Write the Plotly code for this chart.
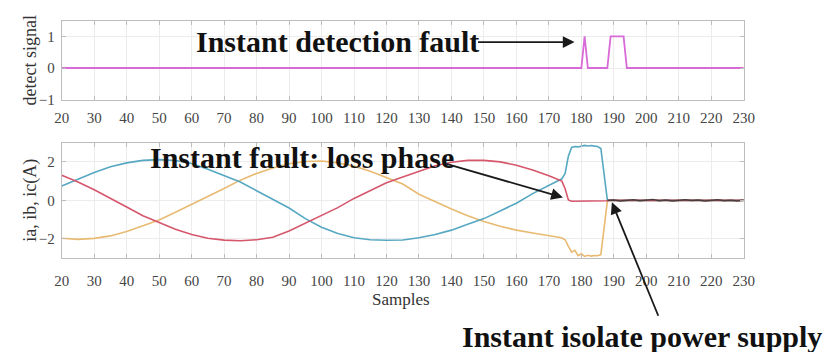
import plotly.graph_objects as go

# ---------------- data ----------------
samples = [20, 25, 30, 35, 40, 45, 50, 55, 60, 65, 70, 75, 80, 85, 90, 95, 100,
           105, 110, 115, 120, 125, 130, 135, 140, 145, 150, 155, 160, 165, 170,
           173, 174, 175, 176, 177, 178, 179, 180, 181, 182, 183, 184, 185, 186,
           187, 188, 189, 190, 200, 210, 220, 230]

i_blue = [0.75, 1.10, 1.45, 1.75, 1.95, 2.08, 2.12, 2.07, 1.92, 1.62, 1.30, 0.95,
          0.50, 0.05, -0.40, -0.95, -1.40, -1.72, -1.95, -2.05, -2.08, -2.06,
          -1.95, -1.78, -1.55, -1.25, -0.95, -0.55, -0.15, 0.35, 0.80,
          1.05, 1.12, 1.40, 2.30, 2.75, 2.80, 2.78, 2.84, 2.86, 2.83, 2.85, 2.82,
          2.80, 2.70, 1.30, 0.02, 0.0, 0.0, 0.0, 0.0, 0.0, 0.0]

i_red = [1.30, 0.95, 0.55, 0.12, -0.35, -0.80, -1.15, -1.50, -1.78, -1.97, -2.07,
         -2.10, -2.05, -1.92, -1.60, -1.20, -0.80, -0.38, 0.10, 0.50, 0.92, 1.22,
         1.52, 1.80, 1.98, 2.08, 2.08, 2.00, 1.83, 1.58, 1.28,
         1.10, 1.00, 0.60, 0.02, -0.05, -0.05, -0.05, -0.04, -0.05, -0.05, -0.04,
         -0.05, -0.05, -0.04, -0.03, -0.02, 0.0, 0.0, 0.0, 0.0, 0.0, 0.0]

i_yellow = [-1.97, -2.03, -1.98, -1.85, -1.62, -1.32, -1.02, -0.62, -0.22, 0.22,
            0.62, 1.05, 1.40, 1.68, 1.90, 2.02, 2.05, 1.95, 1.78, 1.52, 1.20,
            0.85, 0.32, -0.08, -0.45, -0.80, -1.10, -1.35, -1.55, -1.70, -1.82,
            -1.92, -1.96, -2.05, -2.40, -2.70, -2.60, -2.88, -2.78, -2.92, -2.86,
            -2.90, -2.87, -2.88, -2.82, -1.40, -0.05, 0.0, 0.0, 0.0, 0.0, 0.0, 0.0]

resid_samples = [188, 190, 192, 194, 196, 198, 200, 202, 204, 206, 208, 210, 212,
                 214, 216, 218, 220, 222, 224, 226, 228, 230]
resid_vals = [0.0, 0.02, -0.03, 0.01, 0.03, -0.02, 0.0, 0.04, -0.02, 0.02, -0.04,
              0.01, 0.03, -0.01, 0.02, -0.03, 0.0, 0.03, -0.02, 0.01, -0.03, 0.02]

det_samples = [20, 180, 181, 182, 188, 189, 193, 194, 230]
det_vals = [0, 0, 1, 0, 0, 1, 1, 0, 0]

x_ticks = list(range(20, 231, 10))
top_yticks = [-1, 0, 1]
bot_yticks = [-2, 0, 2]

# ---------------- figure ----------------
W, H = 829, 352
BLUE, RED, YEL, MAG = "#56a8c2", "#d6566c", "#e8ba72", "#d86ad8"
SERIF = "Liberation Serif, Times New Roman, serif"

fig = go.Figure()
fig.add_trace(go.Scatter(x=det_samples, y=det_vals, mode="lines",
                         line=dict(color=MAG, width=1.8), xaxis="x", yaxis="y"))
fig.add_trace(go.Scatter(x=samples, y=i_yellow, mode="lines",
                         line=dict(color=YEL, width=1.6), xaxis="x2", yaxis="y2"))
fig.add_trace(go.Scatter(x=samples, y=i_blue, mode="lines",
                         line=dict(color=BLUE, width=1.6), xaxis="x2", yaxis="y2"))
fig.add_trace(go.Scatter(x=samples, y=i_red, mode="lines",
                         line=dict(color=RED, width=1.6), xaxis="x2", yaxis="y2"))
fig.add_trace(go.Scatter(x=resid_samples, y=resid_vals, mode="lines",
                         line=dict(color="#4a3c3c", width=1.5), xaxis="x2", yaxis="y2"))

tickfont = dict(family=SERIF, size=15, color="#454545")
common = dict(showline=True, linecolor="#bdbdbd", linewidth=1, mirror="ticks",
              ticks="inside", ticklen=4, tickcolor="#bdbdbd", showgrid=True,
              gridcolor="#ececec", zeroline=False, tickfont=tickfont)

xdom = [55 / W, 753 / W]
fig.update_layout(
    width=W, height=H, margin=dict(l=0, r=0, t=0, b=0),
    paper_bgcolor="white", plot_bgcolor="white", showlegend=False,
    xaxis=dict(domain=xdom, range=[20, 230], tickvals=x_ticks, anchor="y",
               ticklabelstandoff=4, **common),
    yaxis=dict(domain=[1 - 102 / H, 1 - 21 / H], range=[-1, 1.5], tickvals=top_yticks,
               anchor="x", ticklabelstandoff=3, **common),
    xaxis2=dict(domain=xdom, range=[20, 230], tickvals=x_ticks, anchor="y2",
                ticklabelstandoff=9, **common),
    yaxis2=dict(domain=[1 - 264 / H, 1 - 146 / H], range=[-3, 3], tickvals=bot_yticks,
                anchor="x2", ticklabelstandoff=3, **common),
)

labfont = dict(family=SERIF, size=18, color="#333333")
bigfont = dict(family=SERIF, size=30, color="#111111")
ann = [
    dict(text="detect signal", x=23 / W, y=1 - 61.5 / H, xref="paper", yref="paper",
         textangle=-90, showarrow=False, font=labfont, xanchor="center", yanchor="middle"),
    dict(text="ia, ib, ic(A)", x=23 / W, y=1 - 205 / H, xref="paper", yref="paper",
         textangle=-90, showarrow=False, font=labfont, xanchor="center", yanchor="middle"),
    dict(text="Samples", x=402 / W, y=1 - 306 / H, xref="paper", yref="paper",
         showarrow=False, font=dict(family=SERIF, size=17, color="#333333"),
         xanchor="center", yanchor="middle"),
    dict(text="<b>Instant detection fault</b>", x=337 / W, y=1 - 42 / H, xref="paper",
         yref="paper", showarrow=False, font=bigfont, xanchor="center", yanchor="middle"),
    dict(text="<b>Instant fault: loss phase</b>", x=301 / W, y=1 - 161 / H, xref="paper",
         yref="paper", showarrow=False, font=bigfont, xanchor="center", yanchor="middle"),
    dict(text="<b>Instant isolate power supply</b>", x=649 / W, y=1 - 344 / H,
         xref="paper", yref="paper", showarrow=False, font=bigfont, xanchor="center",
         yanchor="middle"),
    # arrows
    dict(text="", x=177.9, y=0.82, xref="x", yref="y", ax=-98, ay=0, showarrow=True,
         arrowhead=2, arrowsize=1.3, arrowwidth=1.8, arrowcolor="#1a1a1a", standoff=0),
    dict(text="", x=174.3, y=0.15, xref="x2", yref="y2", ax=-118, ay=-34, showarrow=True,
         arrowhead=2, arrowsize=1.3, arrowwidth=1.8, arrowcolor="#1a1a1a", standoff=0),
    dict(text="", x=189.4, y=-0.1, xref="x2", yref="y2", ax=47, ay=115, showarrow=True,
         arrowhead=2, arrowsize=1.3, arrowwidth=1.8, arrowcolor="#1a1a1a", standoff=0),
]
fig.update_layout(annotations=ann)

fig.write_html("out.html")
